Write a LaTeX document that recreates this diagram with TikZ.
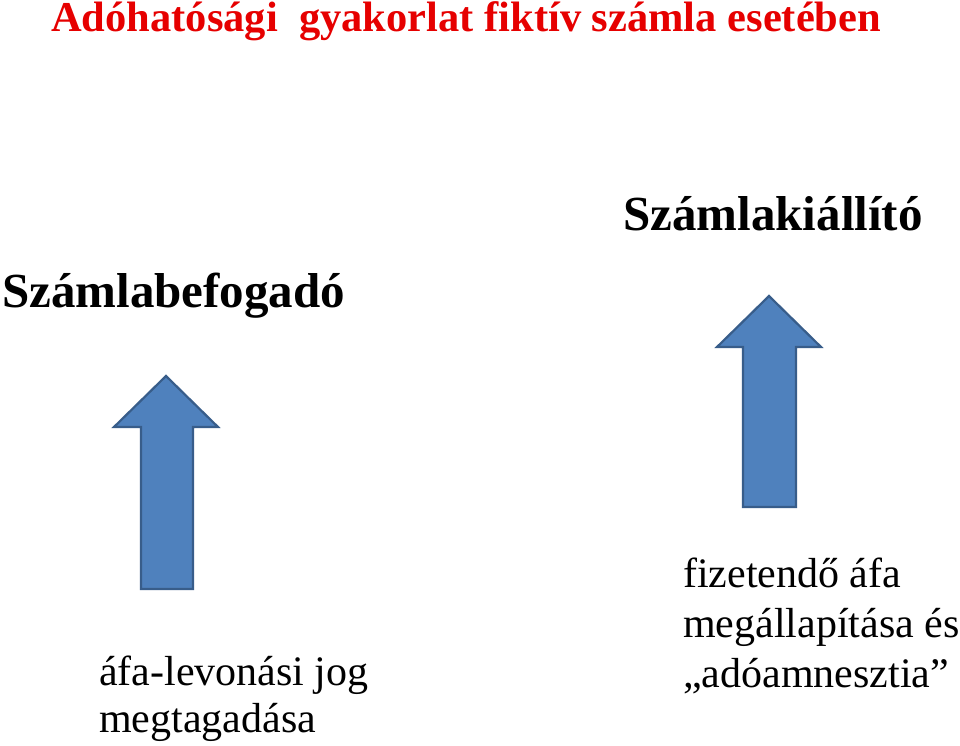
\documentclass[tikz,border=0pt]{standalone}
\usepackage{fontspec}
\setmainfont{Liberation Serif}
\begin{document}
\begin{tikzpicture}[x=1pt,y=-1pt,
  lbl/.style={anchor=base west,inner sep=0pt,font=\fontsize{49}{56}\selectfont\bfseries},
  ttl/.style={anchor=base west,inner sep=0pt,text=titlered,font=\fontsize{42.5}{48}\selectfont\bfseries},
  body/.style={anchor=base west,inner sep=0pt,align=left,font=\fontsize{42}{50}\selectfont},
  uparrow/.style={fill=arrowfill,draw=arrowline,line width=2.2pt,line join=miter}]
\definecolor{titlered}{RGB}{230,0,0}
\definecolor{arrowfill}{RGB}{79,129,189}
\definecolor{arrowline}{RGB}{56,93,138}
\useasboundingbox (0,0) rectangle (960,746);
\fill[white] (0,0) rectangle (960,746);
\node[ttl] (title) at (51,32) {Adóhatósági\ \ gyakorlat fiktív számla esetében};
\node[lbl] (kiall) at (623,230) {Számlakiállító};
\node[lbl] (befog) at (2,307) {Számlabefogadó};
% left arrow
\draw[uparrow] (141,589) -- (141,427) -- (114,427) -- (166,376) -- (218,427) -- (193,427) -- (193,589) -- cycle;
% right arrow
\draw[uparrow] (743,507) -- (743,347) -- (717,347) -- (769,296) -- (821,347) -- (796,347) -- (796,507) -- cycle;
\node[body] (left) at (99,732) {áfa-levonási jog\\[-3pt]megtagadása};
\node[body] (right) at (683,687) {fizetendő áfa\\megállapítása és\\„adóamnesztia”};
\end{tikzpicture}
\end{document}
